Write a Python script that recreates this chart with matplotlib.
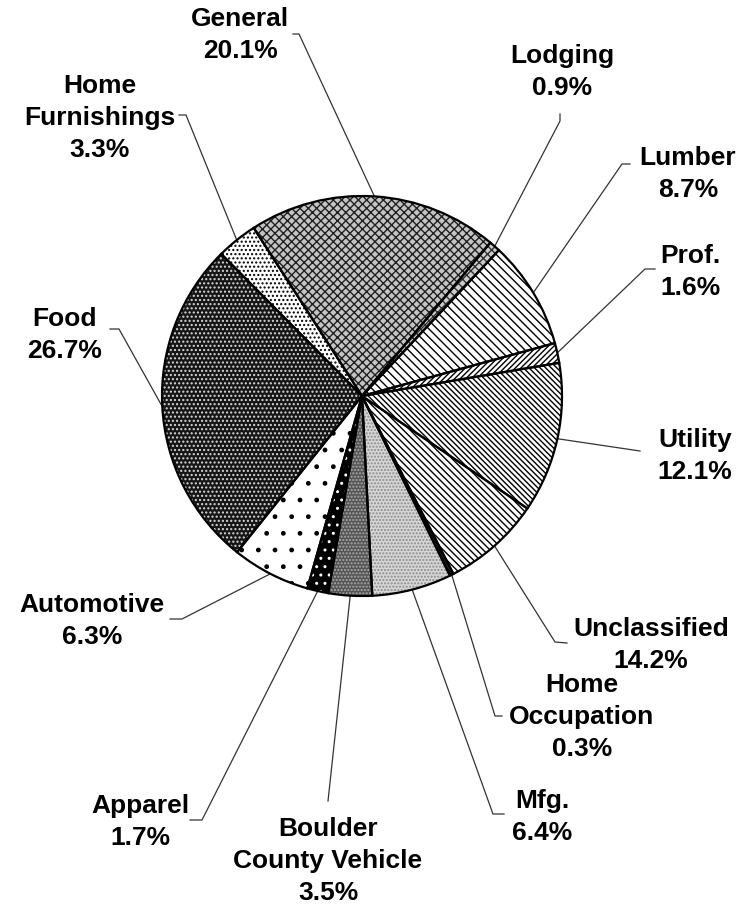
import numpy as np
import matplotlib.pyplot as plt

# slices clockwise from the top (General first)
categories = ['General', 'Lodging', 'Lumber', 'Prof.', 'Utility', 'Unclassified',
              'Home\nOccupation', 'Mfg.', 'Boulder\nCounty Vehicle', 'Apparel',
              'Automotive', 'Food', 'Home\nFurnishings']
# percentages printed on the chart
pct_labels = [20.1, 0.9, 8.7, 1.6, 12.1, 14.2, 0.3, 6.4, 3.5, 1.7, 6.3, 26.7, 3.3]
# wedge sizes as drawn (the Unclassified wedge is drawn smaller than its printed 14.2%)
slice_sizes = [20.1, 0.9, 8.7, 1.6, 12.1, 7.9, 0.3, 6.4, 3.5, 1.7, 6.3, 26.7, 3.3]

# fills
faces = ['#c4c4c4', '#cccccc', 'white', 'white', 'white', 'white', '#222222',
         '#d6d6d6', '#555555', 'black', 'white', '#161616', 'white']
hatch_cols = ['#202020', '#303030', 'black', 'black', 'black', 'black', 'black',
              '#8a8a8a', '#aaaaaa', 'white', 'black', '#d8d8d8', 'black']
hatches = ['xxxx', 'xxxx', '\\\\\\\\', '//////', '\\\\\\\\\\\\', '\\\\\\\\\\', '\\\\\\',
           '.....', '.....', '..', '.', '....', '....']

# label centres, leader elbows and short ticks (reference pixel coords)
label_pos = [(240, 35), (562, 72), (688, 174), (690, 272), (695, 456), (651, 645),
             (582, 717), (542, 817), (328, 861), (140, 822), (92, 621), (65, 335),
             (100, 118)]
elbows = [(299, 35), (560, 122), (622, 165), (645, 270), (640, 452), (555, 643),
          (495, 717), (493, 815), (328, 802), (202, 821), (182, 620), (119, 330),
          (186, 116)]
ticks = [(293, 35), (560, 115), (630, 165), (655, 270), (640, 452), (567, 644),
         (502, 717), (504, 815), (328, 802), (190, 821), (170, 620), (110, 330),
         (179, 116)]

CX, CY, R = 362, 397, 200
W, H = 749, 912


def px(p):
    return ((p[0] - CX) / R, (CY - p[1]) / R)


fig = plt.figure(figsize=(W / 100, H / 100), dpi=100)
ax = fig.add_axes([0, 0, 1, 1])

wedges, _ = ax.pie(slice_sizes, startangle=122.8, counterclock=False,
                   wedgeprops=dict(linewidth=0))
for w, fc, hc, h in zip(wedges, faces, hatch_cols, hatches):
    w.set_facecolor(fc)
    w.set_edgecolor(hc)
    w.set_hatch(h)
    w.set_linewidth(0)

# outlines on top
ax.pie(slice_sizes, startangle=122.8, counterclock=False,
       wedgeprops=dict(facecolor='none', edgecolor='black', linewidth=1.6))

for w, name, pct, lp, el, tk in zip(wedges, categories, pct_labels, label_pos, elbows, ticks):
    a = np.radians((w.theta1 + w.theta2) / 2)
    e = px(el)
    t = px(tk)
    ax.plot([np.cos(a), e[0], t[0]], [np.sin(a), e[1], t[1]], color='#333333', lw=0.9,
            zorder=0)
    x, y = px(lp)
    ax.text(x, y, f'{name}\n{pct}%', ha='center', va='center', multialignment='center',
            fontsize=19, fontweight='bold', family=['Liberation Sans', 'DejaVu Sans'],
            linespacing=1.42)

ax.set_xlim(-CX / R, (W - CX) / R)
ax.set_ylim((CY - H) / R, CY / R)
ax.set_aspect('auto')
ax.axis('off')

fig.savefig('out.png', dpi=100, facecolor='white')
